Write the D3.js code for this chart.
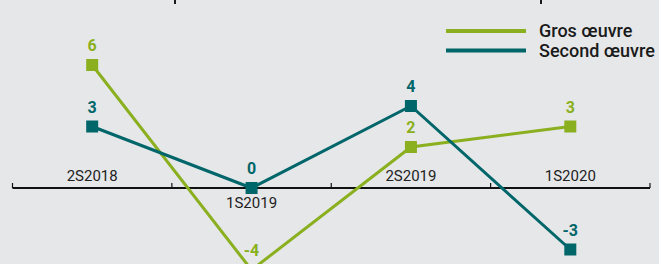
<!DOCTYPE html>
<html><head><meta charset="utf-8">
<script src="https://cdn.jsdelivr.net/npm/d3@7"></script>
<style>html,body{margin:0;padding:0;background:#e6e7e9;}svg{display:block;}</style>
</head><body>
<svg id="c" width="659" height="264"></svg>
<script>
const categories = ["2S2018", "1S2019", "2S2019", "1S2020"];
const seriesNames = ["Gros œuvre", "Second œuvre"];
const grosOeuvre = [6, -4, 2, 3];
const secondOeuvre = [3, 0, 4, -3];
const colors = ["#8ab020", "#00666a"];

const series = [
  {name: seriesNames[0], values: grosOeuvre, color: colors[0]},
  {name: seriesNames[1], values: secondOeuvre, color: colors[1]}
];

const svg = d3.select("#c");
const W = 659, H = 264;
svg.append("rect").attr("width", W).attr("height", H).attr("fill", "#e6e7e9");

const x = d3.scaleBand().domain(categories).range([12.5, 650]);
const y = d3.scaleLinear().domain([0, 4]).range([188, 106]);

const font = "Roboto, 'DejaVu Sans', sans-serif";

// stray marks at top (cropped elements)
svg.append("g").selectAll("line").data([175, 541]).join("line")
  .attr("x1", d => d).attr("x2", d => d).attr("y1", 0).attr("y2", 4)
  .attr("stroke", "#1a1a1a").attr("stroke-width", 2);

// axis
const axisG = svg.append("g");
axisG.append("line").attr("x1", x.range()[0]).attr("x2", x.range()[1])
  .attr("y1", y(0)).attr("y2", y(0)).attr("stroke", "#111").attr("stroke-width", 1.8);
const tickPos = categories.map(c => x(c)).concat([x.range()[1]]);
axisG.selectAll("line.tick").data(tickPos).join("line").attr("class", "tick")
  .attr("x1", d => d).attr("x2", d => d).attr("y1", y(0) - 5).attr("y2", y(0))
  .attr("stroke", "#111").attr("stroke-width", 1.2);
axisG.selectAll("text").data(categories).join("text")
  .attr("x", d => x(d) + x.bandwidth() / 2)
  .attr("y", (d, i) => series.some(s => s.values[i] === 0) ? y(0) + 20 : y(0) - 7)
  .attr("text-anchor", "middle")
  .attr("font-family", font).attr("font-size", 15).attr("fill", "#222")
  .text(d => d);

const line = d3.line()
  .x((d, i) => x(categories[i]) + x.bandwidth() / 2)
  .y(d => y(d));

series.forEach(s => {
  const g = svg.append("g");
  g.append("path").attr("d", line(s.values)).attr("fill", "none")
    .attr("stroke", s.color).attr("stroke-width", 3);
  g.selectAll("rect").data(s.values).join("rect")
    .attr("x", (d, i) => x(categories[i]) + x.bandwidth() / 2 - 6)
    .attr("y", d => y(d) - 6).attr("width", 12).attr("height", 12)
    .attr("fill", s.color);
  g.selectAll("text").data(s.values).join("text")
    .attr("x", (d, i) => x(categories[i]) + x.bandwidth() / 2)
    .attr("y", d => y(d) - 14)
    .attr("text-anchor", "middle")
    .attr("font-family", font).attr("font-weight", "bold").attr("font-size", 16)
    .attr("fill", s.color)
    .text(d => d);
});

// legend
const lg = svg.append("g");
series.forEach((s, i) => {
  const ly = 31 + i * 19.5;
  lg.append("line").attr("x1", 446).attr("x2", 526).attr("y1", ly).attr("y2", ly)
    .attr("stroke", s.color).attr("stroke-width", 4);
  lg.append("text").attr("x", 539).attr("y", ly + 6)
    .attr("font-family", font).attr("font-weight", 500).attr("font-size", 18)
    .attr("fill", "#1a1a1a").text(s.name);
});
</script>
</body></html>
